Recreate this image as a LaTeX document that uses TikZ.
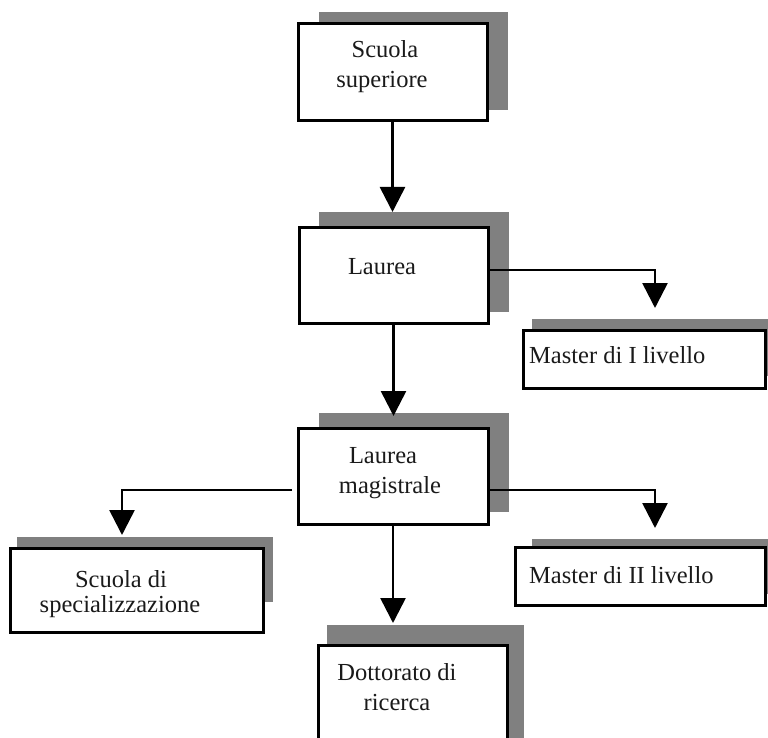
\documentclass[tikz,border=0pt]{standalone}
\usepackage{fontspec}
\setmainfont{Liberation Serif}
\usetikzlibrary{arrows.meta}
\definecolor{shadowgray}{HTML}{808080}
\definecolor{txtcol}{HTML}{1A1A1A}
\begin{document}
\begin{tikzpicture}[x=1pt,y=-1pt,
  boxnode/.style={draw=black, line width=3pt, fill=white, inner sep=0pt, outer sep=0pt, anchor=north west},
  txt/.style={inner sep=0pt, anchor=base, text=txtcol, font=\fontsize{24.5}{30}\selectfont},
  txtl/.style={txt, anchor=base west},
  conn/.style={draw=black, line width=2.6pt, -{Triangle[width=25pt,length=25pt]}}
]
\clip (0,0) rectangle (768,738);
\fill[white] (0,0) rectangle (768,738);
% shadows
\fill[shadowgray] (319,12) rectangle (508,110);
\fill[shadowgray] (319,212) rectangle (509,312);
\fill[shadowgray] (319,413) rectangle (509,512);
\fill[shadowgray] (532,319) rectangle (790,376);
\fill[shadowgray] (532,539) rectangle (790,594);
\fill[shadowgray] (17,537) rectangle (273,602);
\fill[shadowgray] (327,625) rectangle (524,760);
% boxes
\node[boxnode, minimum width=189pt, minimum height=97pt] (b1) at (298,24) {};
\node[boxnode, minimum width=189pt, minimum height=96pt] (b2) at (299,227) {};
\node[boxnode, minimum width=190pt, minimum height=96pt] (b3) at (298,428) {};
\node[boxnode, minimum width=242pt, minimum height=58pt] (m1) at (523,330) {};
\node[boxnode, minimum width=250pt, minimum height=58pt] (m2) at (515,547) {};
\node[boxnode, minimum width=253pt, minimum height=84pt] (ss) at (10,548) {};
\node[boxnode, minimum width=189pt, minimum height=110pt] (dr) at (318,645) {};
% texts
\node[txt] (t1a) at (385,58) {Scuola};
\node[txt] (t1b) at (382,88) {superiore};
\node[txt] (t2) at (382,274) {Laurea};
\node[txt] (t3a) at (383,463) {Laurea};
\node[txt] (t3b) at (390,493) {magistrale};
\node[txtl] (tm1) at (529,363) {Master di I livello};
\node[txtl] (tm2) at (529,583) {Master di II livello};
\node[txt] (tsa) at (121,587) {Scuola di};
\node[txt] (tsb) at (120,612) {specializzazione};
\node[txt] (tda) at (397,680) {Dottorato di};
\node[txt] (tdb) at (397,710) {ricerca};
% connector ends
\coordinate (tip1) at (392.5,212);
\coordinate (tip2) at (393.5,416);
\coordinate (tip3) at (655,308);
\coordinate (tip4) at (655,528);
\coordinate (tip5) at (122,535);
\coordinate (tip6) at (393,623);
% connectors
\draw[conn] (b1.south) -- (b1.south |- tip1);
\draw[conn] (b2.south) -- (b2.south |- tip2);
\draw[conn] ([yshift=5pt]b2.east) -| (tip3);
\draw[conn] ([yshift=-14pt]b3.east) -| (tip4);
\draw[conn] ([xshift=-6pt,yshift=-14pt]b3.west) -| (tip5);
\draw[conn] (b3.south) -- (b3.south |- tip6);
\end{tikzpicture}
\end{document}
